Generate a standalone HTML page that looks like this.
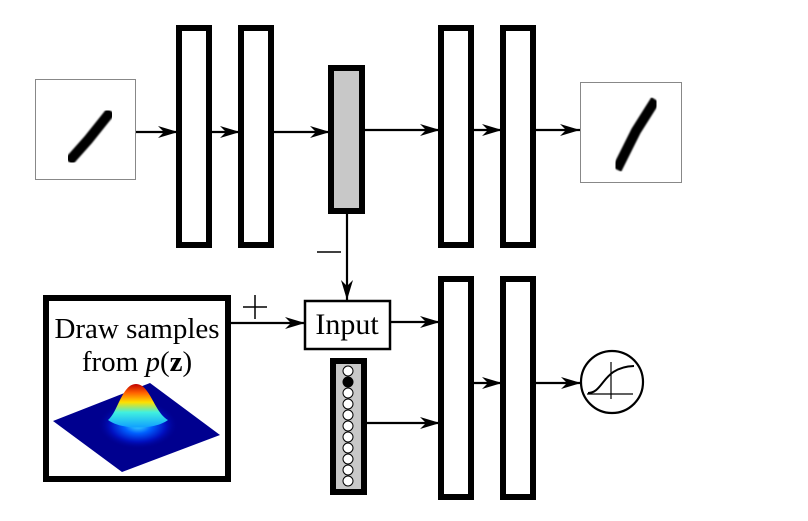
<!DOCTYPE html>
<html><head><meta charset="utf-8"><style>
html,body{margin:0;padding:0;background:#fff;}
svg{display:block;}
text{font-family:"Liberation Serif",serif;fill:#000;}
</style></head><body>
<svg width="808" height="521" viewBox="0 0 808 521" xmlns="http://www.w3.org/2000/svg">
<defs>
<marker id="a" viewBox="0 0 20 12" refX="20" refY="6" markerWidth="20" markerHeight="12" markerUnits="userSpaceOnUse" orient="auto">
<path d="M0,0 L20,6 L0,12 L6,6 Z" fill="#000"/>
</marker>
<radialGradient id="g" cx="0.5" cy="0.5" r="0.5">
<stop offset="0" stop-color="#40e8ff"/>
<stop offset="0.35" stop-color="#0060ff"/>
<stop offset="0.7" stop-color="#0010c0"/>
<stop offset="1" stop-color="#00008f" stop-opacity="0"/>
</radialGradient>
<linearGradient id="h" x1="0" y1="0" x2="0" y2="1">
<stop offset="0" stop-color="#c00000"/>
<stop offset="0.2" stop-color="#ff6000"/>
<stop offset="0.42" stop-color="#ffe000"/>
<stop offset="0.65" stop-color="#40f0e0"/>
<stop offset="1" stop-color="#10a0ff"/>
</linearGradient>
<filter id="b"><feGaussianBlur stdDeviation="0.8"/></filter>
</defs>
<g fill="none" stroke="#000">
<rect x="35.5" y="79.5" width="100" height="100" stroke="#888" stroke-width="1"/>
<path d="M108,115 L88,140 L72,158" stroke-width="10" stroke-linecap="square" filter="url(#b)"/>
<rect x="580.5" y="82.5" width="101" height="100" stroke="#888" stroke-width="1"/>
<path d="M653,104 L636,131 L619,165" stroke-width="10" stroke-linecap="square" filter="url(#b)"/>
<g stroke-width="6">
<rect x="179" y="28" width="30" height="217"/>
<rect x="241" y="28" width="30" height="217"/>
<rect x="441" y="28" width="30" height="217"/>
<rect x="503" y="28" width="30" height="217"/>
<rect x="331" y="68" width="31" height="143" fill="#c8c8c8"/>
<rect x="441" y="279" width="30" height="218"/>
<rect x="503" y="279" width="30" height="218"/>
<rect x="333" y="361" width="31" height="131" fill="#c8c8c8"/>
<rect x="46" y="298" width="182" height="181"/>
</g>
<rect x="305" y="301" width="85" height="48" stroke-width="2.5" fill="#fff"/>
<g stroke-width="2.2">
<line x1="136" y1="132" x2="178" y2="132" marker-end="url(#a)"/>
<line x1="212" y1="132" x2="240" y2="132" marker-end="url(#a)"/>
<line x1="274" y1="132" x2="330" y2="132" marker-end="url(#a)"/>
<line x1="365" y1="130" x2="440" y2="130" marker-end="url(#a)"/>
<line x1="474" y1="130" x2="502" y2="130" marker-end="url(#a)"/>
<line x1="536" y1="130" x2="580" y2="130" marker-end="url(#a)"/>
<line x1="347" y1="214" x2="347" y2="300" marker-end="url(#a)"/>
<line x1="231" y1="323" x2="305" y2="323" marker-end="url(#a)"/>
<line x1="391" y1="322" x2="440" y2="322" marker-end="url(#a)"/>
<line x1="367" y1="423" x2="440" y2="423" marker-end="url(#a)"/>
<line x1="474" y1="383" x2="502" y2="383" marker-end="url(#a)"/>
<line x1="536" y1="383" x2="581" y2="383" marker-end="url(#a)"/>
</g>
<line x1="317" y1="252" x2="341" y2="252" stroke-width="1.5"/>
<line x1="243" y1="307" x2="267" y2="307" stroke-width="1.5"/>
<line x1="255" y1="295" x2="255" y2="319" stroke-width="1.5"/>
<circle cx="612" cy="382" r="31" stroke-width="2.2"/>
<line x1="587" y1="394" x2="633" y2="394" stroke-width="1.2"/>
<line x1="611" y1="362" x2="611" y2="399" stroke-width="1.2"/>
<path d="M588,393 C604,393 602,367 634,366" stroke-width="2"/>
<g stroke-width="1" fill="#fff">
<circle cx="348" cy="371" r="5"/>
<circle cx="348" cy="382" r="5" fill="#000"/>
<circle cx="348" cy="393" r="5"/>
<circle cx="348" cy="404" r="5"/>
<circle cx="348" cy="415" r="5"/>
<circle cx="348" cy="426" r="5"/>
<circle cx="348" cy="437" r="5"/>
<circle cx="348" cy="448" r="5"/>
<circle cx="348" cy="459" r="5"/>
<circle cx="348" cy="470" r="5"/>
<circle cx="348" cy="481" r="5"/>
</g>
</g>
<polygon points="53,421 150,383 220,435 122,472" fill="#00008f"/>
<ellipse cx="138" cy="425" rx="40" ry="24" fill="url(#g)"/>
<path d="M108,420 C118,412 122,384 136,384 C150,384 154,412 168,420 C155,430 121,430 108,420 Z" fill="url(#h)"/>
<text x="347" y="334" font-size="30" text-anchor="middle">Input</text>
<text x="137" y="338" font-size="29" text-anchor="middle">Draw samples</text>
<text x="137" y="371" font-size="29" text-anchor="middle">from <tspan font-style="italic">p</tspan>(<tspan font-weight="bold">z</tspan>)</text>
</svg>
</body></html>
